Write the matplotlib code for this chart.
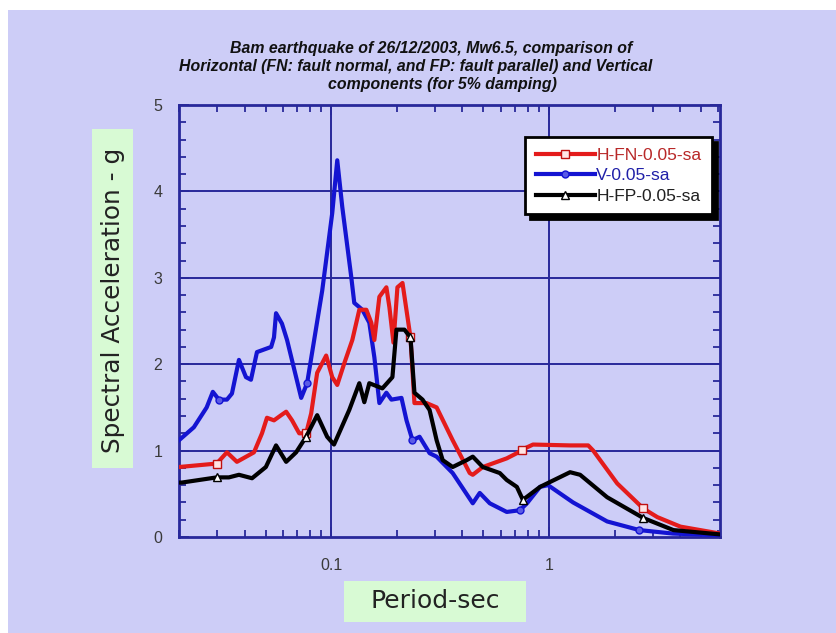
import matplotlib.pyplot as plt
from matplotlib.patches import Rectangle
from matplotlib.ticker import FixedLocator, LogLocator, MultipleLocator, NullFormatter
import numpy as np

# response spectra, period (s) vs spectral acceleration (g)
fn_period = [0.02, 0.0298, 0.0332, 0.0369, 0.0442, 0.0481, 0.0507, 0.0546, 0.0589, 0.0621,
             0.0661, 0.0713, 0.0767, 0.0809, 0.0862, 0.0948, 0.1011, 0.1066, 0.1148, 0.125,
             0.1346, 0.145, 0.1528, 0.1578, 0.1664, 0.1792, 0.185, 0.1931, 0.2014, 0.2125,
             0.2239, 0.2312, 0.2411, 0.274, 0.3048, 0.3612, 0.4326, 0.4467, 0.4966, 0.6397,
             0.712, 0.7508, 0.8445, 1.25, 1.514, 1.596, 2.057, 2.71, 3.145, 4.015, 6.1]
fn_sa = [0.81, 0.85, 0.98, 0.87, 0.98, 1.20, 1.38, 1.35, 1.41, 1.45,
         1.35, 1.20, 1.20, 1.43, 1.90, 2.10, 1.85, 1.76, 2.01, 2.28,
         2.63, 2.63, 2.48, 2.28, 2.78, 2.89, 2.66, 2.25, 2.89, 2.94,
         2.55, 2.31, 1.55, 1.55, 1.50, 1.12, 0.74, 0.72, 0.81, 0.91,
         0.97, 1.01, 1.07, 1.06, 1.06, 1.00, 0.62, 0.33, 0.23, 0.12, 0.04]

v_period = [0.02, 0.0234, 0.0268, 0.0286, 0.0305, 0.0332, 0.035, 0.0377, 0.0406, 0.0428,
            0.0456, 0.053, 0.0546, 0.0558, 0.0594, 0.0627, 0.0728, 0.0775, 0.0909, 0.1011,
            0.1066, 0.1124, 0.1236, 0.1276, 0.139, 0.1496, 0.1578, 0.1664, 0.1792, 0.189,
            0.2102, 0.2217, 0.2361, 0.2545, 0.283, 0.3048, 0.3612, 0.4467, 0.4809, 0.5347,
            0.6397, 0.7352, 0.7926, 0.9098, 0.99, 1.29, 1.85, 2.6, 3.7, 6.1]
v_sa = [1.12, 1.27, 1.50, 1.68, 1.59, 1.59, 1.66, 2.05, 1.85, 1.82,
        2.14, 2.20, 2.31, 2.59, 2.47, 2.28, 1.61, 1.78, 2.85, 3.75,
        4.36, 3.82, 3.01, 2.71, 2.63, 2.48, 2.08, 1.55, 1.67, 1.59,
        1.61, 1.35, 1.12, 1.16, 0.97, 0.93, 0.74, 0.39, 0.51, 0.39,
        0.29, 0.31, 0.39, 0.58, 0.60, 0.40, 0.18, 0.08, 0.04, 0.02]

fp_period = [0.02, 0.0206, 0.0298, 0.0339, 0.0377, 0.0433, 0.0501, 0.0558, 0.0621, 0.069,
             0.0767, 0.0862, 0.0958, 0.103, 0.121, 0.1346, 0.1419, 0.1496, 0.1718, 0.191,
             0.1993, 0.2169, 0.2312, 0.2411, 0.2626, 0.283, 0.3048, 0.325, 0.3612, 0.4191,
             0.4467, 0.4966, 0.5945, 0.6397, 0.712, 0.7587, 0.9098, 1.25, 1.39, 1.85,
             2.71, 3.727, 6.1]
fp_sa = [0.63, 0.63, 0.69, 0.69, 0.72, 0.68, 0.81, 1.06, 0.87, 0.98,
         1.16, 1.41, 1.16, 1.07, 1.47, 1.78, 1.56, 1.78, 1.72, 1.85,
         2.40, 2.40, 2.31, 1.67, 1.59, 1.47, 1.12, 0.89, 0.81, 0.89,
         0.93, 0.81, 0.74, 0.66, 0.58, 0.43, 0.58, 0.75, 0.72, 0.46,
         0.22, 0.08, 0.03]

mark_periods = [0.03, 0.077, 0.23, 0.75, 2.7]

bg = '#cdcdf7'
grid_c = '#28289a'


def mark_idx(period):
    lp = np.log10(period)
    return [int(np.argmin(np.abs(lp - np.log10(m)))) for m in mark_periods]


fig = plt.figure(figsize=(8.37, 6.33), dpi=100, facecolor='white')
fig.patches.append(Rectangle((8 / 837, 0), 1, 1 - 10 / 633, transform=fig.transFigure,
                             facecolor=bg, edgecolor='none', zorder=-2))

ax = fig.add_axes([179 / 837, 96 / 633, 541 / 837, 432 / 633])
ax.set_facecolor(bg)
ax.set_xscale('log')
ax.set_xlim(0.02, 6.1)
ax.set_ylim(0, 5)

ax.plot(fn_period, fn_sa, color='#e41b1b', lw=3.0, marker='s', ms=6, mfc='#ffe4e4',
        mec='#c01010', mew=1.0, markevery=mark_idx(fn_period), label='H-FN-0.05-sa', zorder=4)
ax.plot(v_period, v_sa, color='#1414d2', lw=3.0, marker='o', ms=5, mfc='#5a5ae6',
        mec='#1414d2', mew=1.0, markevery=mark_idx(v_period), label='V-0.05-sa', zorder=3)
ax.plot(fp_period, fp_sa, color='black', lw=3.0, marker='^', ms=6, mfc='white',
        mec='black', mew=1.0, markevery=mark_idx(fp_period), label='H-FP-0.05-sa', zorder=5)

# grid only at decades and whole g values
for v in [0.1, 1]:
    ax.axvline(v, color=grid_c, lw=1.4, zorder=1)
for v in [1, 2, 3, 4]:
    ax.axhline(v, color=grid_c, lw=1.4, zorder=1)

for s in ax.spines.values():
    s.set_color(grid_c)
    s.set_linewidth(2)

ax.xaxis.set_major_locator(FixedLocator([0.1, 1]))
ax.xaxis.set_major_formatter(plt.FuncFormatter(lambda v, p: '0.1' if v < 0.5 else '1'))
ax.xaxis.set_minor_locator(LogLocator(base=10, subs=np.arange(2, 10)))
ax.xaxis.set_minor_formatter(NullFormatter())
ax.yaxis.set_major_locator(MultipleLocator(1))
ax.yaxis.set_minor_locator(MultipleLocator(0.2))
ax.tick_params(which='both', direction='in', top=True, right=True, color=grid_c, width=1.3)
ax.tick_params(which='major', length=7, labelsize=11.5, labelcolor='#3a3a3a')
ax.tick_params(which='minor', length=5)
ax.tick_params(axis='y', pad=12)
ax.tick_params(axis='x', pad=15)
for lab in ax.get_xticklabels() + ax.get_yticklabels():
    lab.set_family('Liberation Sans')

leg = ax.legend(loc='upper right', bbox_to_anchor=(0.985, 0.925), borderaxespad=0,
                prop={'family': 'Liberation Sans', 'size': 12.5}, handlelength=3.4,
                handletextpad=0.1, labelspacing=0.3, borderpad=0.6, fancybox=False,
                framealpha=1, edgecolor='black',
                shadow={'color': 'black', 'alpha': 1, 'ox': 3.5, 'oy': -3.5})
leg.get_frame().set_linewidth(2)
for t, c in zip(leg.get_texts(), ['#b82828', '#2020a8', '#202020']):
    t.set_color(c)

title_lines = ['Bam earthquake of 26/12/2003, Mw6.5, comparison of',
               'Horizontal (FN: fault normal, and FP: fault parallel) and Vertical',
               'components (for 5% damping)']
for txt, cx, cy in zip(title_lines, [431, 416, 442], [49, 67, 85]):
    fig.text(cx / 837, 1 - cy / 633, txt, ha='center', va='center', fontsize=11.4,
             fontweight='bold', fontstyle='italic', family='Liberation Sans', color='#111111')

# green label boxes
fig.patches.append(Rectangle((92 / 837, 1 - 468 / 633), 41 / 837, 339 / 633,
                             transform=fig.transFigure, facecolor='#d8fad4', edgecolor='none'))
fig.patches.append(Rectangle((344 / 837, 1 - 622 / 633), 182 / 837, 41 / 633,
                             transform=fig.transFigure, facecolor='#d8fad4', edgecolor='none'))
fig.text(113 / 837, 1 - 300 / 633, 'Spectral Acceleration - g', rotation=90, ha='center',
         va='center', fontsize=17.8, family='DejaVu Sans', color='#222222')
fig.text(435 / 837, 1 - 601 / 633, 'Period-sec', ha='center', va='center', fontsize=18,
         family='DejaVu Sans', color='#222222')

fig.savefig('out.png', dpi=100, facecolor=fig.get_facecolor())
